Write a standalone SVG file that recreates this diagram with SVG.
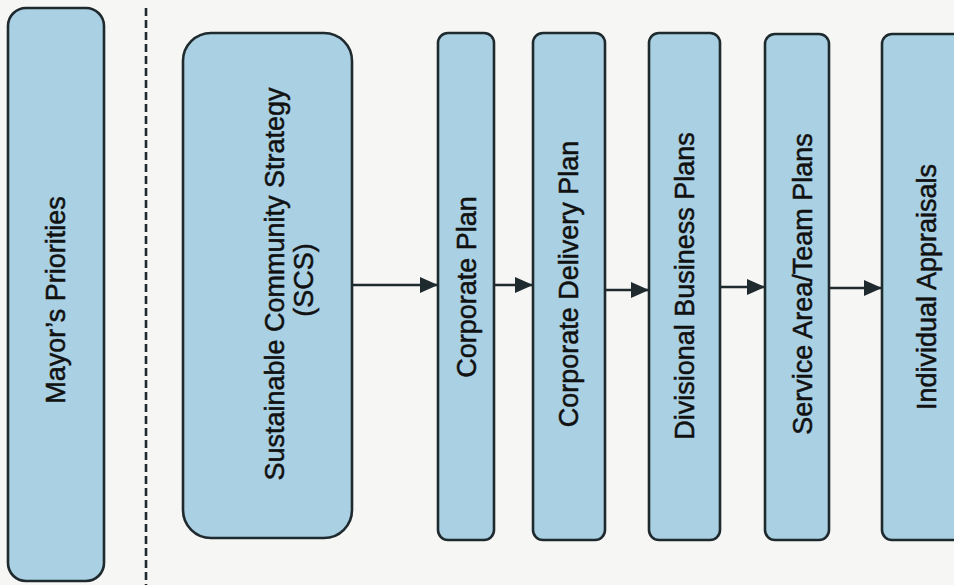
<svg xmlns="http://www.w3.org/2000/svg" width="954" height="585" viewBox="0 0 954 585">
<style>
.box{fill:#a9d0e3;stroke:#1f2a2e;stroke-width:2.6}
.lbl{font-family:"Liberation Sans",Arial,sans-serif;font-size:27px;fill:#111;stroke:#111;stroke-width:0.5;text-anchor:middle}
.conn{stroke:#1f2a2e;stroke-width:2.6;fill:none}
</style>
<defs>
<marker id="ah" markerUnits="userSpaceOnUse" markerWidth="18" markerHeight="16" refX="18" refY="8" orient="auto">
<path d="M0,0 L18,8 L0,16 z" fill="#1f2a2e"/>
</marker>
</defs>
<rect width="954" height="585" fill="#f6f6f5"/>
<g id="mayors-priorities">
<rect class="box" x="8" y="8" width="96" height="573" rx="18"/>
<text class="lbl" transform="translate(65,300) rotate(-90)">Mayor’s Priorities</text>
</g>
<line id="divider" x1="146" y1="8" x2="146" y2="585" stroke="#1f2a2e" stroke-width="2.6" stroke-dasharray="8,4"/>
<g id="scs">
<rect class="box" x="183" y="33" width="169" height="505" rx="28"/>
<text class="lbl" transform="translate(284,284) rotate(-90)">Sustainable Community Strategy</text>
<text class="lbl" transform="translate(313,280) rotate(-90)">(SCS)</text>
</g>
<g id="corporate-plan">
<rect class="box" x="438" y="33" width="56" height="507" rx="10"/>
<text class="lbl" transform="translate(476,287) rotate(-90)">Corporate Plan</text>
</g>
<g id="corporate-delivery-plan">
<rect class="box" x="533" y="33" width="72" height="507" rx="10"/>
<text class="lbl" transform="translate(578,284) rotate(-90)">Corporate Delivery Plan</text>
</g>
<g id="divisional-business-plans">
<rect class="box" x="649" y="33" width="71" height="507" rx="10"/>
<text class="lbl" transform="translate(694,286) rotate(-90)">Divisional Business Plans</text>
</g>
<g id="service-area-team-plans">
<rect class="box" x="765" y="34" width="64" height="506" rx="10"/>
<text class="lbl" transform="translate(812,284) rotate(-90)">Service Area/Team Plans</text>
</g>
<g id="individual-appraisals">
<rect class="box" x="882" y="34" width="90" height="506" rx="10"/>
<text class="lbl" transform="translate(936,287) rotate(-90)">Individual Appraisals</text>
</g>
<g id="connectors">
<line class="conn" x1="352" y1="285" x2="438" y2="285" marker-end="url(#ah)"/>
<line class="conn" x1="494" y1="285" x2="533" y2="285" marker-end="url(#ah)"/>
<line class="conn" x1="605" y1="290" x2="649" y2="290" marker-end="url(#ah)"/>
<line class="conn" x1="720" y1="287" x2="765" y2="287" marker-end="url(#ah)"/>
<line class="conn" x1="829" y1="288" x2="882" y2="288" marker-end="url(#ah)"/>
</g>
</svg>
